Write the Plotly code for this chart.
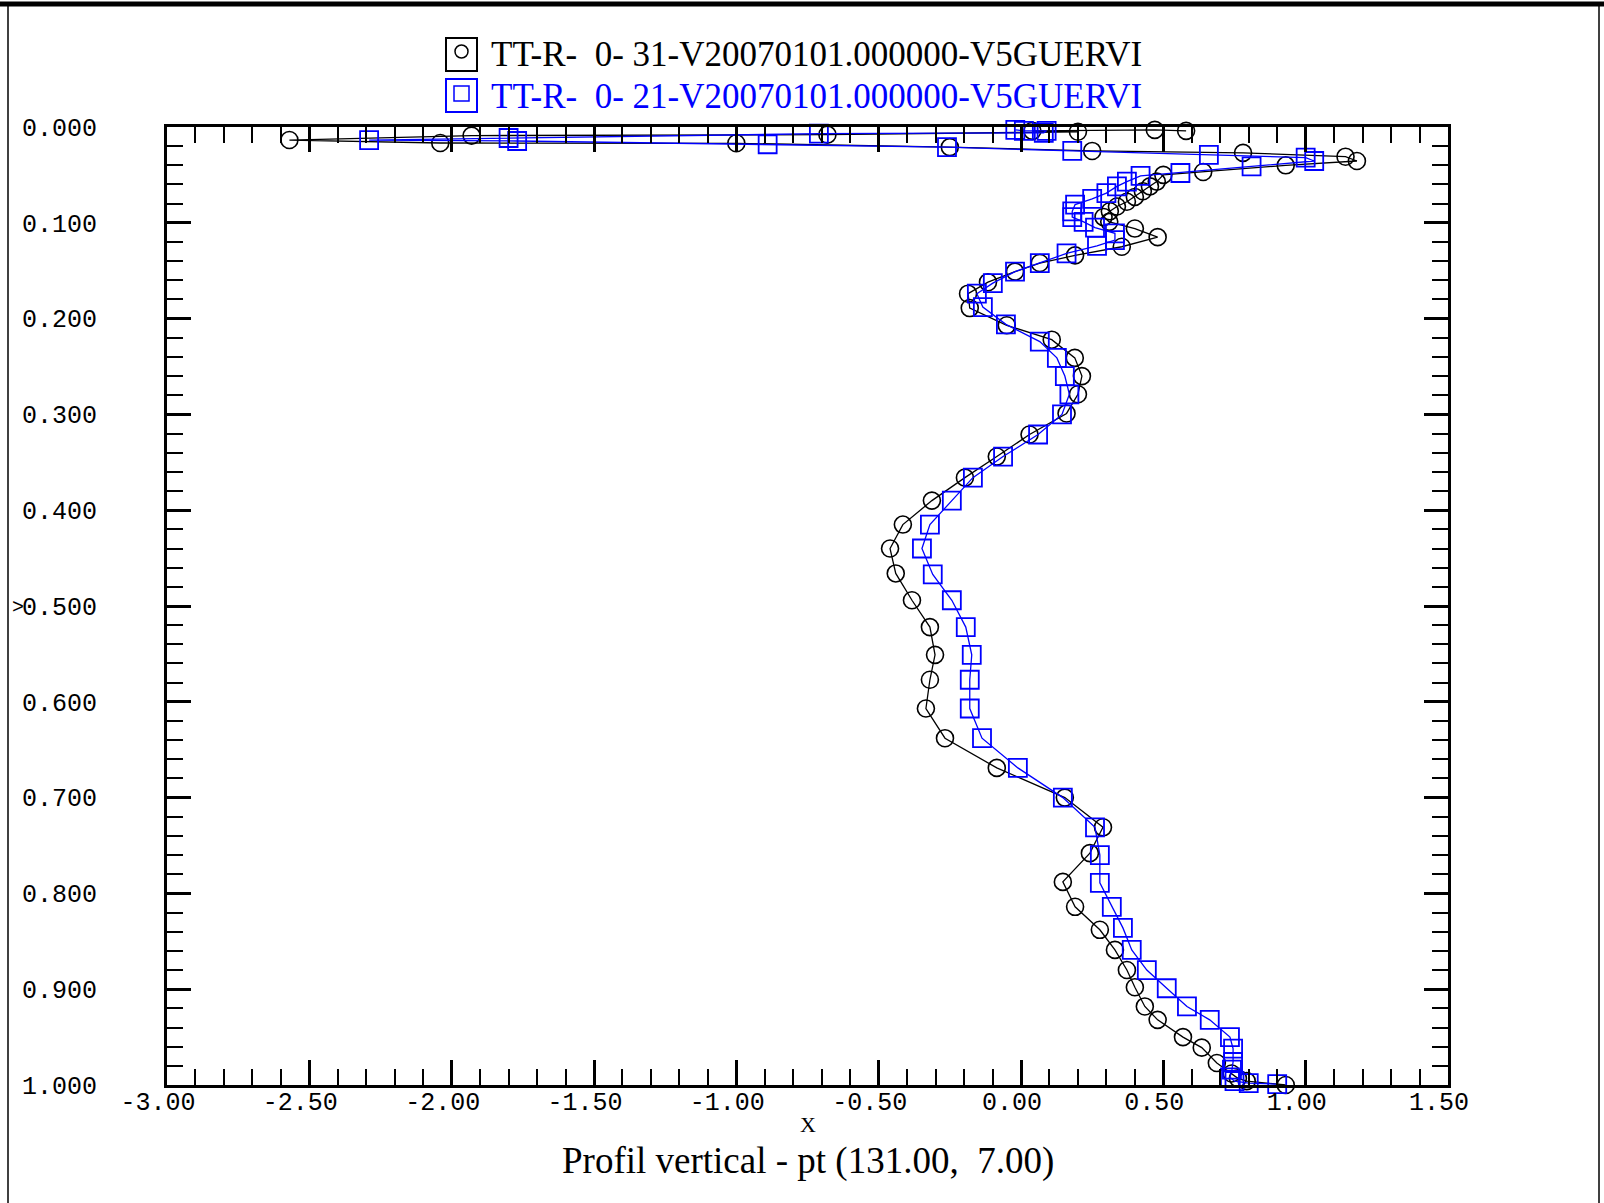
import plotly.graph_objects as go

# ---- data: series "TT-R- 0-31" (black circles) ----
black_level = [0.004, 0.003, 0.004, 0.005, 0.008, 0.009, 0.0136, 0.0167, 0.017, 0.021,
               0.025, 0.027, 0.031, 0.0355, 0.040, 0.047, 0.050,
               0.057, 0.062, 0.067, 0.073, 0.078, 0.083, 0.088, 0.094, 0.099, 0.106,
               0.115, 0.125, 0.134, 0.142, 0.151, 0.162, 0.174, 0.189, 0.207, 0.222,
               0.241, 0.260, 0.279, 0.299, 0.321, 0.344, 0.366, 0.390, 0.415, 0.440,
               0.466, 0.494, 0.522, 0.551, 0.577, 0.607, 0.638, 0.669, 0.700, 0.731,
               0.758, 0.788, 0.814, 0.838, 0.859, 0.880, 0.898, 0.918, 0.932, 0.950,
               0.961, 0.977, 0.988, 0.993, 0.996, 1.000]
black_value = [0.58, 0.47, 0.04, 0.20, -0.68, -1.93, -2.57, -2.04, -1.00, -0.25,
               0.25, 0.78, 1.14, 1.18, 0.93, 0.64, 0.50,
               0.477, 0.453, 0.428, 0.40, 0.372, 0.337, 0.312, 0.29, 0.31, 0.40,
               0.48, 0.354, 0.19, 0.066, -0.021, -0.116, -0.186, -0.18, -0.05, 0.108,
               0.189, 0.214, 0.20, 0.16, 0.03, -0.085, -0.197, -0.313, -0.415, -0.46,
               -0.44, -0.383, -0.32, -0.302, -0.32, -0.334, -0.267, -0.085, 0.154, 0.288,
               0.242, 0.147, 0.19, 0.277, 0.33, 0.372, 0.40, 0.435, 0.48, 0.569,
               0.635, 0.688, 0.74, 0.762, 0.793, 0.93]

# ---- data: series "TT-R- 0-21" (blue squares) ----
blue_level = [0.003, 0.004, 0.004, 0.006, 0.007, 0.0115, 0.0136, 0.0146, 0.018, 0.021,
              0.025, 0.029, 0.032, 0.0355, 0.041, 0.048, 0.051,
              0.057, 0.062, 0.069, 0.075, 0.081, 0.088, 0.094, 0.099, 0.105, 0.111,
              0.118, 0.124, 0.132, 0.142, 0.151, 0.163, 0.174, 0.188, 0.206, 0.224,
              0.241, 0.260, 0.279, 0.300, 0.321, 0.344, 0.366, 0.390, 0.415, 0.440,
              0.467, 0.494, 0.522, 0.551, 0.577, 0.607, 0.638, 0.669, 0.700, 0.731,
              0.760, 0.789, 0.814, 0.836, 0.859, 0.880, 0.899, 0.918, 0.932, 0.950,
              0.962, 0.976, 0.984, 0.992, 0.996, 0.998, 0.999]
blue_value = [-0.02, 0.01, 0.09, 0.08, -0.71, -1.80, -2.29, -1.77, -0.89, -0.26,
              0.18, 0.66, 1.00, 1.03, 0.81, 0.56, 0.42,
              0.372, 0.337, 0.30, 0.25, 0.19, 0.18, 0.18, 0.22, 0.26, 0.33,
              0.33, 0.267, 0.16, 0.066, -0.021, -0.099, -0.155, -0.134, -0.053, 0.066,
              0.126, 0.154, 0.17, 0.144, 0.06, -0.063, -0.169, -0.243, -0.32, -0.348,
              -0.31, -0.243, -0.194, -0.173, -0.18, -0.18, -0.137, -0.011, 0.147, 0.26,
              0.277, 0.277, 0.319, 0.358, 0.389, 0.442, 0.512, 0.583, 0.663, 0.734,
              0.745, 0.745, 0.741, 0.734, 0.75, 0.80, 0.90]

series_names = ["TT-R-  0- 31-V20070101.000000-V5GUERVI",
                "TT-R-  0- 21-V20070101.000000-V5GUERVI"]
x_ticks = [-3.0, -2.5, -2.0, -1.5, -1.0, -0.5, 0.0, 0.5, 1.0, 1.5]
y_ticks = [0.0, 0.1, 0.2, 0.3, 0.4, 0.5, 0.6, 0.7, 0.8, 0.9, 1.0]
title_text = "Profil vertical - pt (131.00,  7.00)"
x_title = "X"

BLUE = "#0000ff"
W, H = 1604, 1203
L, R, T, B = 167, 156, 127, 118
PW, PH = W - L - R, H - T - B


def px(xp):
    return (xp - L) / PW


def py(yp):
    return (H - B - yp) / PH


fig = go.Figure()
fig.add_trace(go.Scatter(x=black_value, y=black_level, mode="lines+markers",
                         line=dict(color="black", width=1.3),
                         marker=dict(symbol="circle-open", size=17, color="black",
                                     line=dict(width=1.6, color="black")),
                         showlegend=False, cliponaxis=False))
fig.add_trace(go.Scatter(x=blue_value, y=blue_level, mode="lines+markers",
                         line=dict(color=BLUE, width=1.3),
                         marker=dict(symbol="square-open", size=18, color=BLUE,
                                     line=dict(width=1.8, color=BLUE)),
                         showlegend=False, cliponaxis=False))

tickfont = dict(family="Liberation Mono", size=25, color="black")
fig.update_xaxes(range=[-3.0, 1.5], tickvals=x_ticks,
                 ticktext=["%.2f" % v for v in x_ticks],
                 ticks="inside", ticklen=25, tickwidth=2.5, tickcolor="black",
                 showline=True, linewidth=3, linecolor="black", mirror="allticks",
                 showgrid=False, zeroline=False, tickfont=tickfont,
                 ticklabelstandoff=-8, ticklabelshift=-9,
                 minor=dict(ticks="inside", ticklen=16, tickwidth=1.5,
                            tickcolor="black", dtick=0.1, tick0=0, showgrid=False))
fig.update_yaxes(range=[1.0, 0.0], tickvals=y_ticks,
                 ticktext=["%.3f" % v for v in y_ticks],
                 ticks="inside", ticklen=24, tickwidth=2.5, tickcolor="black",
                 showline=True, linewidth=3, linecolor="black", mirror="allticks",
                 showgrid=False, zeroline=False, tickfont=tickfont,
                 ticklabelstandoff=62,
                 minor=dict(ticks="inside", ticklen=16, tickwidth=1.5,
                            tickcolor="black", dtick=0.02, tick0=0, showgrid=False))

shapes = []
# outer frame of the page
shapes.append(dict(type="line", xref="paper", yref="paper", x0=px(0), x1=px(W),
                   y0=py(4), y1=py(4), line=dict(color="black", width=5)))
shapes.append(dict(type="line", xref="paper", yref="paper", x0=px(8), x1=px(8),
                   y0=py(4), y1=py(H + 5), line=dict(color="black", width=1.5)))
shapes.append(dict(type="line", xref="paper", yref="paper", x0=px(1599), x1=px(1599),
                   y0=py(4), y1=py(H + 5), line=dict(color="black", width=1.5)))

# legend boxes with symbols
legend_rows = [(55, "black", "circle"), (96, BLUE, "rect")]
for yc, col, sym in legend_rows:
    shapes.append(dict(type="rect", xref="paper", yref="paper",
                       x0=px(446), x1=px(477), y0=py(yc - 17), y1=py(yc + 16),
                       line=dict(color=col, width=2)))
    if sym == "circle":
        shapes.append(dict(type="circle", xref="paper", yref="paper",
                           x0=px(455), x1=px(468), y0=py(yc - 10), y1=py(yc + 3),
                           line=dict(color=col, width=1.5)))
    else:
        shapes.append(dict(type="rect", xref="paper", yref="paper",
                           x0=px(454), x1=px(469), y0=py(yc - 10), y1=py(yc + 5),
                           line=dict(color=col, width=1.5)))

annotations = []
for (yc, col, sym), name in zip(legend_rows, series_names):
    annotations.append(dict(xref="paper", yref="paper", x=px(489), y=py(yc),
                            xanchor="left", yanchor="middle", showarrow=False,
                            text=name, font=dict(family="Liberation Serif", size=35,
                                                 color=col)))
annotations.append(dict(xref="paper", yref="paper", x=0.5, y=py(1124),
                        xanchor="center", yanchor="middle", showarrow=False,
                        text=x_title, font=dict(family="Liberation Serif", size=22,
                                                color="black")))
annotations.append(dict(xref="paper", yref="paper", x=0.5, y=py(1161),
                        xanchor="center", yanchor="middle", showarrow=False,
                        text=title_text, font=dict(family="Liberation Serif", size=37,
                                                   color="black")))
annotations.append(dict(xref="paper", yref="paper", x=px(10), y=py(607),
                        xanchor="left", yanchor="middle", showarrow=False,
                        text=">", font=dict(family="Liberation Mono", size=20,
                                            color="black")))

fig.update_layout(width=W, height=H, margin=dict(l=L, r=R, t=T, b=B, autoexpand=False),
                  paper_bgcolor="white", plot_bgcolor="white",
                  shapes=shapes, annotations=annotations, showlegend=False)

fig.write_html("out.html")
